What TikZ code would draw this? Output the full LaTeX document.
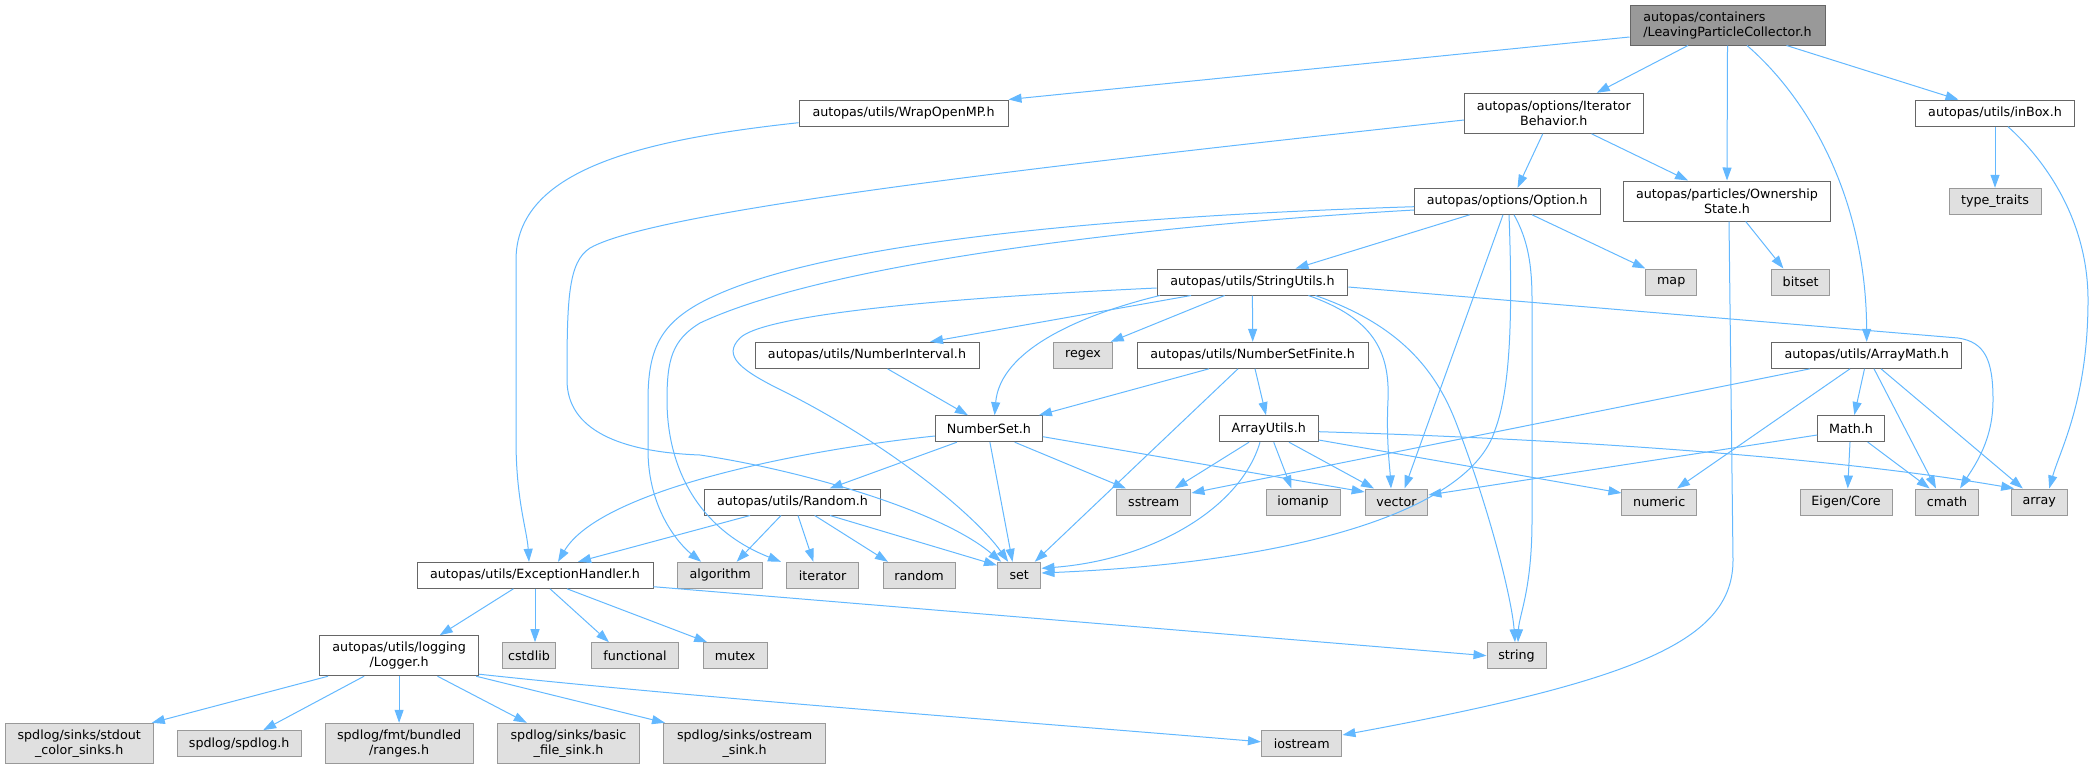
\documentclass[tikz,border=0pt]{standalone}
\usepackage{fontspec}
\setmainfont{DejaVu Sans}
\usetikzlibrary{arrows.meta}
\definecolor{edgec}{HTML}{63B8FF}
\definecolor{bdark}{HTML}{666666}
\definecolor{blight}{HTML}{999999}
\definecolor{gfill}{HTML}{E0E0E0}
\definecolor{rfill}{HTML}{999999}
\begin{document}
\begin{tikzpicture}[x=1pt,y=-1pt,
  box/.style={draw, rectangle, inner sep=0pt, line width=1pt, font=\fontsize{12.7}{15}\selectfont, align=center, text=black},
  inode/.style={box, draw=bdark, fill=white},
  enode/.style={box, draw=blight, fill=gfill},
  rnode/.style={box, draw=bdark, fill=rfill, align=left},
  sz/.style 2 args={minimum width=#1pt, minimum height=#2pt},
  dep/.style={draw=edgec, line width=1pt, -{Triangle[length=13pt,width=9pt]}}]
\useasboundingbox (0,0) rectangle (2095,769);
% nodes
\node[rnode, sz={195}{40}] (root) at (1727.5,25) {autopas/containers\\/LeavingParticleCollector.h};
\node[inode, sz={209}{26}] (wrap) at (903.5,113) {autopas/utils/WrapOpenMP.h};
\node[inode, sz={178.5}{40}] (iter) at (1553.75,113.3) {autopas/options/Iterator\\Behavior.h};
\node[inode, sz={159}{26}] (inbox) at (1995,113.2) {autopas/utils/inBox.h};
\node[enode, sz={92}{26}] (typetraits) at (1995,201.3) {type\_traits};
\node[inode, sz={185.4}{26}] (option) at (1507.3,201.3) {autopas/options/Option.h};
\node[inode, sz={206.6}{40}] (ownership) at (1727,201) {autopas/particles/Ownership\\State.h};
\node[inode, sz={190.8}{26}] (strutils) at (1252.4,282) {autopas/utils/StringUtils.h};
\node[enode, sz={50.5}{26}] (map) at (1671.2,282) {map};
\node[enode, sz={58.5}{26}] (bitset) at (1800.7,282) {bitset};
\node[inode, sz={224}{26}] (numinterval) at (867,355.3) {autopas/utils/NumberInterval.h};
\node[enode, sz={59}{26}] (regex) at (1083,355.3) {regex};
\node[inode, sz={231.3}{26}] (numsetfinite) at (1252.7,355.3) {autopas/utils/NumberSetFinite.h};
\node[inode, sz={190.5}{26}] (arraymath) at (1866.7,355.3) {autopas/utils/ArrayMath.h};
\node[inode, sz={107}{26}] (numset) at (988.9,428.7) {NumberSet.h};
\node[inode, sz={99}{26}] (arrayutils) at (1268.7,428.7) {ArrayUtils.h};
\node[inode, sz={66.7}{26}] (mathh) at (1851,428.5) {Math.h};
\node[inode, sz={176}{26}] (randomh) at (792.5,502) {autopas/utils/Random.h};
\node[enode, sz={74.5}{26}] (sstream) at (1153.7,502) {sstream};
\node[enode, sz={74}{26}] (iomanip) at (1303,502) {iomanip};
\node[enode, sz={62.7}{26}] (vector) at (1396.5,502) {vector};
\node[enode, sz={74.5}{26}] (numeric) at (1659.2,502) {numeric};
\node[enode, sz={92}{26}] (eigen) at (1846,502) {Eigen/Core};
\node[enode, sz={63}{26}] (cmath) at (1947,502) {cmath};
\node[enode, sz={55.8}{26}] (array) at (2039.2,502) {array};
\node[inode, sz={236}{26}] (exc) at (535,575.3) {autopas/utils/ExceptionHandler.h};
\node[enode, sz={85}{26}] (algorithm) at (720.2,575.3) {algorithm};
\node[enode, sz={72}{26}] (iterator) at (822.6,575.3) {iterator};
\node[enode, sz={72}{26}] (randomstd) at (919,575.3) {random};
\node[enode, sz={43.5}{26}] (set) at (1019.2,575.3) {set};
\node[inode, sz={159}{40}] (logger) at (399.1,655.7) {autopas/utils/logging\\/Logger.h};
\node[enode, sz={53.6}{26}] (cstdlib) at (529,655.7) {cstdlib};
\node[enode, sz={87}{26}] (functional) at (635,655.7) {functional};
\node[enode, sz={64.3}{26}] (mutex) at (735.2,655.7) {mutex};
\node[enode, sz={59}{26}] (string) at (1516.5,655.7) {string};
\node[enode, sz={147.7}{40.4}] (stdout) at (79.2,743.5) {spdlog/sinks/stdout\\\_color\_sinks.h};
\node[enode, sz={124}{26}] (spdlogh) at (239.2,743.6) {spdlog/spdlog.h};
\node[enode, sz={148}{40.4}] (ranges) at (399.1,743.5) {spdlog/fmt/bundled\\/ranges.h};
\node[enode, sz={141.5}{40.4}] (basicfile) at (568.5,743.5) {spdlog/sinks/basic\\\_file\_sink.h};
\node[enode, sz={161.6}{40.4}] (ostreamsink) at (744.6,743.5) {spdlog/sinks/ostream\\\_sink.h};
\node[enode, sz={80.5}{26}] (iostream) at (1301.7,743.8) {iostream};
% edges from root
\draw[dep] ([yshift=-12pt]root.west) -- (wrap.north east);
\draw[dep] ([xshift=-39.5pt]root.south) -- ([xshift=43pt]iter.north);
\draw[dep] (root.south) -- (ownership.north);
\draw[dep] ([xshift=19.5pt]root.south) .. controls (1810,100) and (1866,200) .. (arraymath.north);
\draw[dep] ([xshift=59pt]root.south) -- ([xshift=-36.5pt]inbox.north);
% WrapOpenMP
\draw[dep] ([yshift=-9.7pt]wrap.west) .. controls (640,140) and (516,170) .. (516,260) -- (516,440) .. controls (516,500) and (527,530) .. ([xshift=-6pt]exc.north);
% IteratorBehavior
\draw[dep] ([yshift=-6.7pt]iter.west) .. controls (1100,160) and (660,208) .. (590,248) .. controls (568,262) and (567,300) .. (567,380) .. controls (567,430) and (620,452) .. (700,455) .. controls (800,470) and (940,510) .. ([xshift=-18pt]set.north);
\draw[dep] ([xshift=-11pt]iter.south) -- ([xshift=10.2pt]option.north);
\draw[dep] ([xshift=37.75pt]iter.south) -- ([xshift=-39pt]ownership.north);
% Option
\draw[dep] ([xshift=-37.7pt]option.south) -- ([xshift=43.1pt]strutils.north);
\draw[dep] ([xshift=24.7pt]option.south) -- (map.north west);
\draw[dep] ([yshift=-5.4pt]option.west) .. controls (1150,215) and (820,238) .. (700,303) .. controls (660,325) and (648,350) .. (648,400) -- (648,450) .. controls (648,510) and (680,545) .. ([xshift=-19pt]algorithm.north);
\draw[dep] ([yshift=-8.7pt]option.west) .. controls (1150,225) and (830,262) .. (700,323) .. controls (672,340) and (667,360) .. (667,400) .. controls (667,470) and (700,530) .. ([xshift=-41.6pt]iterator.north);
\draw[dep] ([xshift=-4.3pt]option.south) -- ([xshift=8pt]vector.north);
\draw[dep] ([xshift=1.7pt]option.south) .. controls (1513,320) and (1510,390) .. (1495,430) .. controls (1470,510) and (1300,562) .. ([yshift=2.3pt]set.east);
\draw[dep] ([xshift=6.7pt]option.south) .. controls (1528,240) and (1532,265) .. (1532,300) -- (1532,520) .. controls (1532,590) and (1519,615) .. ([xshift=1.5pt]string.north);
% StringUtils
\draw[dep] ([xshift=-61.4pt]strutils.south) -- ([xshift=63pt]numinterval.north);
\draw[dep] ([xshift=-92.6pt]strutils.south) .. controls (1080,315) and (1000,350) .. ([xshift=5.7pt]numset.north);
\draw[dep] ([xshift=-27.8pt]strutils.south) -- ([xshift=27.7pt]regex.north);
\draw[dep] (strutils.south) -- (numsetfinite.north);
\draw[dep] ([yshift=-6pt]strutils.west) .. controls (900,300) and (760,318) .. (740,338) .. controls (722,356) and (740,370) .. (785,392) .. controls (890,445) and (975,515) .. ([xshift=-11pt]set.north);
\draw[dep] ([xshift=56pt]strutils.south) .. controls (1372,318) and (1390,350) .. (1388,400) .. controls (1386,440) and (1390,470) .. ([xshift=-5.5pt]vector.north);
\draw[dep] ([xshift=63pt]strutils.south) .. controls (1400,325) and (1435,370) .. (1455,420) .. controls (1490,510) and (1512,600) .. ([xshift=-1.5pt]string.north);
\draw[dep] ([yshift=-5pt]strutils.east) -- (1958,338) .. controls (1985,342) and (1993,360) .. (1993,400) .. controls (1993,440) and (1975,465) .. ([xshift=13pt]cmath.north);
% NumberInterval, NumberSetFinite
\draw[dep] ([xshift=20.5pt]numinterval.south) -- ([xshift=-21pt]numset.north);
\draw[dep] ([xshift=-43.7pt]numsetfinite.south) -- ([xshift=50pt]numset.north);
\draw[dep] ([xshift=2.3pt]numsetfinite.south) -- ([xshift=-2.7pt]arrayutils.north);
\draw[dep] ([xshift=-14.7pt]numsetfinite.south) -- ([xshift=15.6pt]set.north);
% NumberSet
\draw[dep] ([yshift=-7.3pt]numset.west) .. controls (800,450) and (600,490) .. ([xshift=23pt]exc.north);
\draw[dep] ([xshift=-32pt]numset.south) -- ([xshift=37pt]randomh.north);
\draw[dep] ([xshift=1pt]numset.south) -- ([xshift=-6.7pt]set.north);
\draw[dep] ([xshift=25.8pt]numset.south) -- ([xshift=-27.7pt]sstream.north);
\draw[dep] ([yshift=-8pt]numset.east) -- ([yshift=10pt]vector.west);
% ArrayUtils
\draw[dep] ([xshift=-19.7pt]arrayutils.south) -- ([xshift=21pt]sstream.north);
\draw[dep] ([xshift=-8.7pt]arrayutils.south) .. controls (1240,510) and (1150,560) .. ([yshift=7pt]set.east);
\draw[dep] ([xshift=5pt]arrayutils.south) -- ([xshift=-11.5pt]iomanip.north);
\draw[dep] ([xshift=20.3pt]arrayutils.south) -- ([xshift=-22.5pt]vector.north);
\draw[dep] ([yshift=-11.3pt]arrayutils.east) -- ([yshift=9pt]numeric.west);
\draw[dep] ([yshift=-3pt]arrayutils.east) .. controls (1600,440) and (1850,460) .. ([xshift=-25pt]array.north);
% Math.h, ArrayMath
\draw[dep] ([yshift=-6.5pt]mathh.west) -- ([yshift=7pt]vector.east);
\draw[dep] ([xshift=-1pt]mathh.south) -- ([xshift=1.7pt]eigen.north);
\draw[dep] ([xshift=16.6pt]mathh.south) -- ([xshift=-17.3pt]cmath.north);
\draw[dep] ([xshift=-2.2pt]arraymath.south) -- ([xshift=3.3pt]mathh.north);
\draw[dep] ([xshift=-56.7pt]arraymath.south) -- ([yshift=9pt]sstream.east);
\draw[dep] ([xshift=-16.7pt]arraymath.south) -- ([xshift=17.8pt]numeric.north);
\draw[dep] ([xshift=7.3pt]arraymath.south) -- ([xshift=-11pt]cmath.north);
\draw[dep] ([xshift=14.3pt]arraymath.south) -- ([xshift=-16.4pt]array.north);
% Random
\draw[dep] ([xshift=-42.5pt]randomh.south) -- ([xshift=43pt]exc.north);
\draw[dep] ([xshift=-11.5pt]randomh.south) -- ([xshift=16.4pt]algorithm.north);
\draw[dep] ([xshift=5.5pt]randomh.south) -- ([xshift=-9.2pt]iterator.north);
\draw[dep] ([xshift=22.2pt]randomh.south) -- ([xshift=-31pt]randomstd.north);
\draw[dep] ([xshift=37.5pt]randomh.south) -- ([yshift=10pt]set.west);
% ExceptionHandler
\draw[dep] ([xshift=-21.6pt]exc.south) -- ([xshift=40.6pt]logger.north);
\draw[dep] (exc.south) -- ([xshift=6pt]cstdlib.north);
\draw[dep] ([xshift=15pt]exc.south) -- ([xshift=-26pt]functional.north);
\draw[dep] ([xshift=32pt]exc.south) -- ([xshift=-28pt]mutex.north);
\draw[dep] ([yshift=-11.4pt]exc.east) -- (string.west);
% Logger
\draw[dep] ([xshift=-71pt]logger.south) -- ([xshift=72.6pt]stdout.north);
\draw[dep] ([xshift=-35pt]logger.south) -- ([xshift=24pt]spdlogh.north);
\draw[dep] (logger.south) -- (ranges.north);
\draw[dep] ([xshift=38.4pt]logger.south) -- ([xshift=-41.7pt]basicfile.north);
\draw[dep] ([xshift=77pt]logger.south) -- ([xshift=-79.6pt]ostreamsink.north);
\draw[dep] ([yshift=2pt]logger.south east) .. controls (700,698) and (1000,720) .. ([yshift=2pt]iostream.west);
% OwnershipState
\draw[dep] ([xshift=2pt]ownership.south) -- (1733,560) .. controls (1733,640) and (1640,680) .. ([yshift=8.8pt]iostream.east);
\draw[dep] ([xshift=18.7pt]ownership.south) -- ([xshift=-17.3pt]bitset.north);
% inBox
\draw[dep] (inbox.south) -- (typetraits.north);
\draw[dep] ([xshift=13pt]inbox.south) .. controls (2045,160) and (2088,220) .. (2088,300) .. controls (2088,400) and (2060,450) .. ([xshift=10pt]array.north);
\end{tikzpicture}
\end{document}
